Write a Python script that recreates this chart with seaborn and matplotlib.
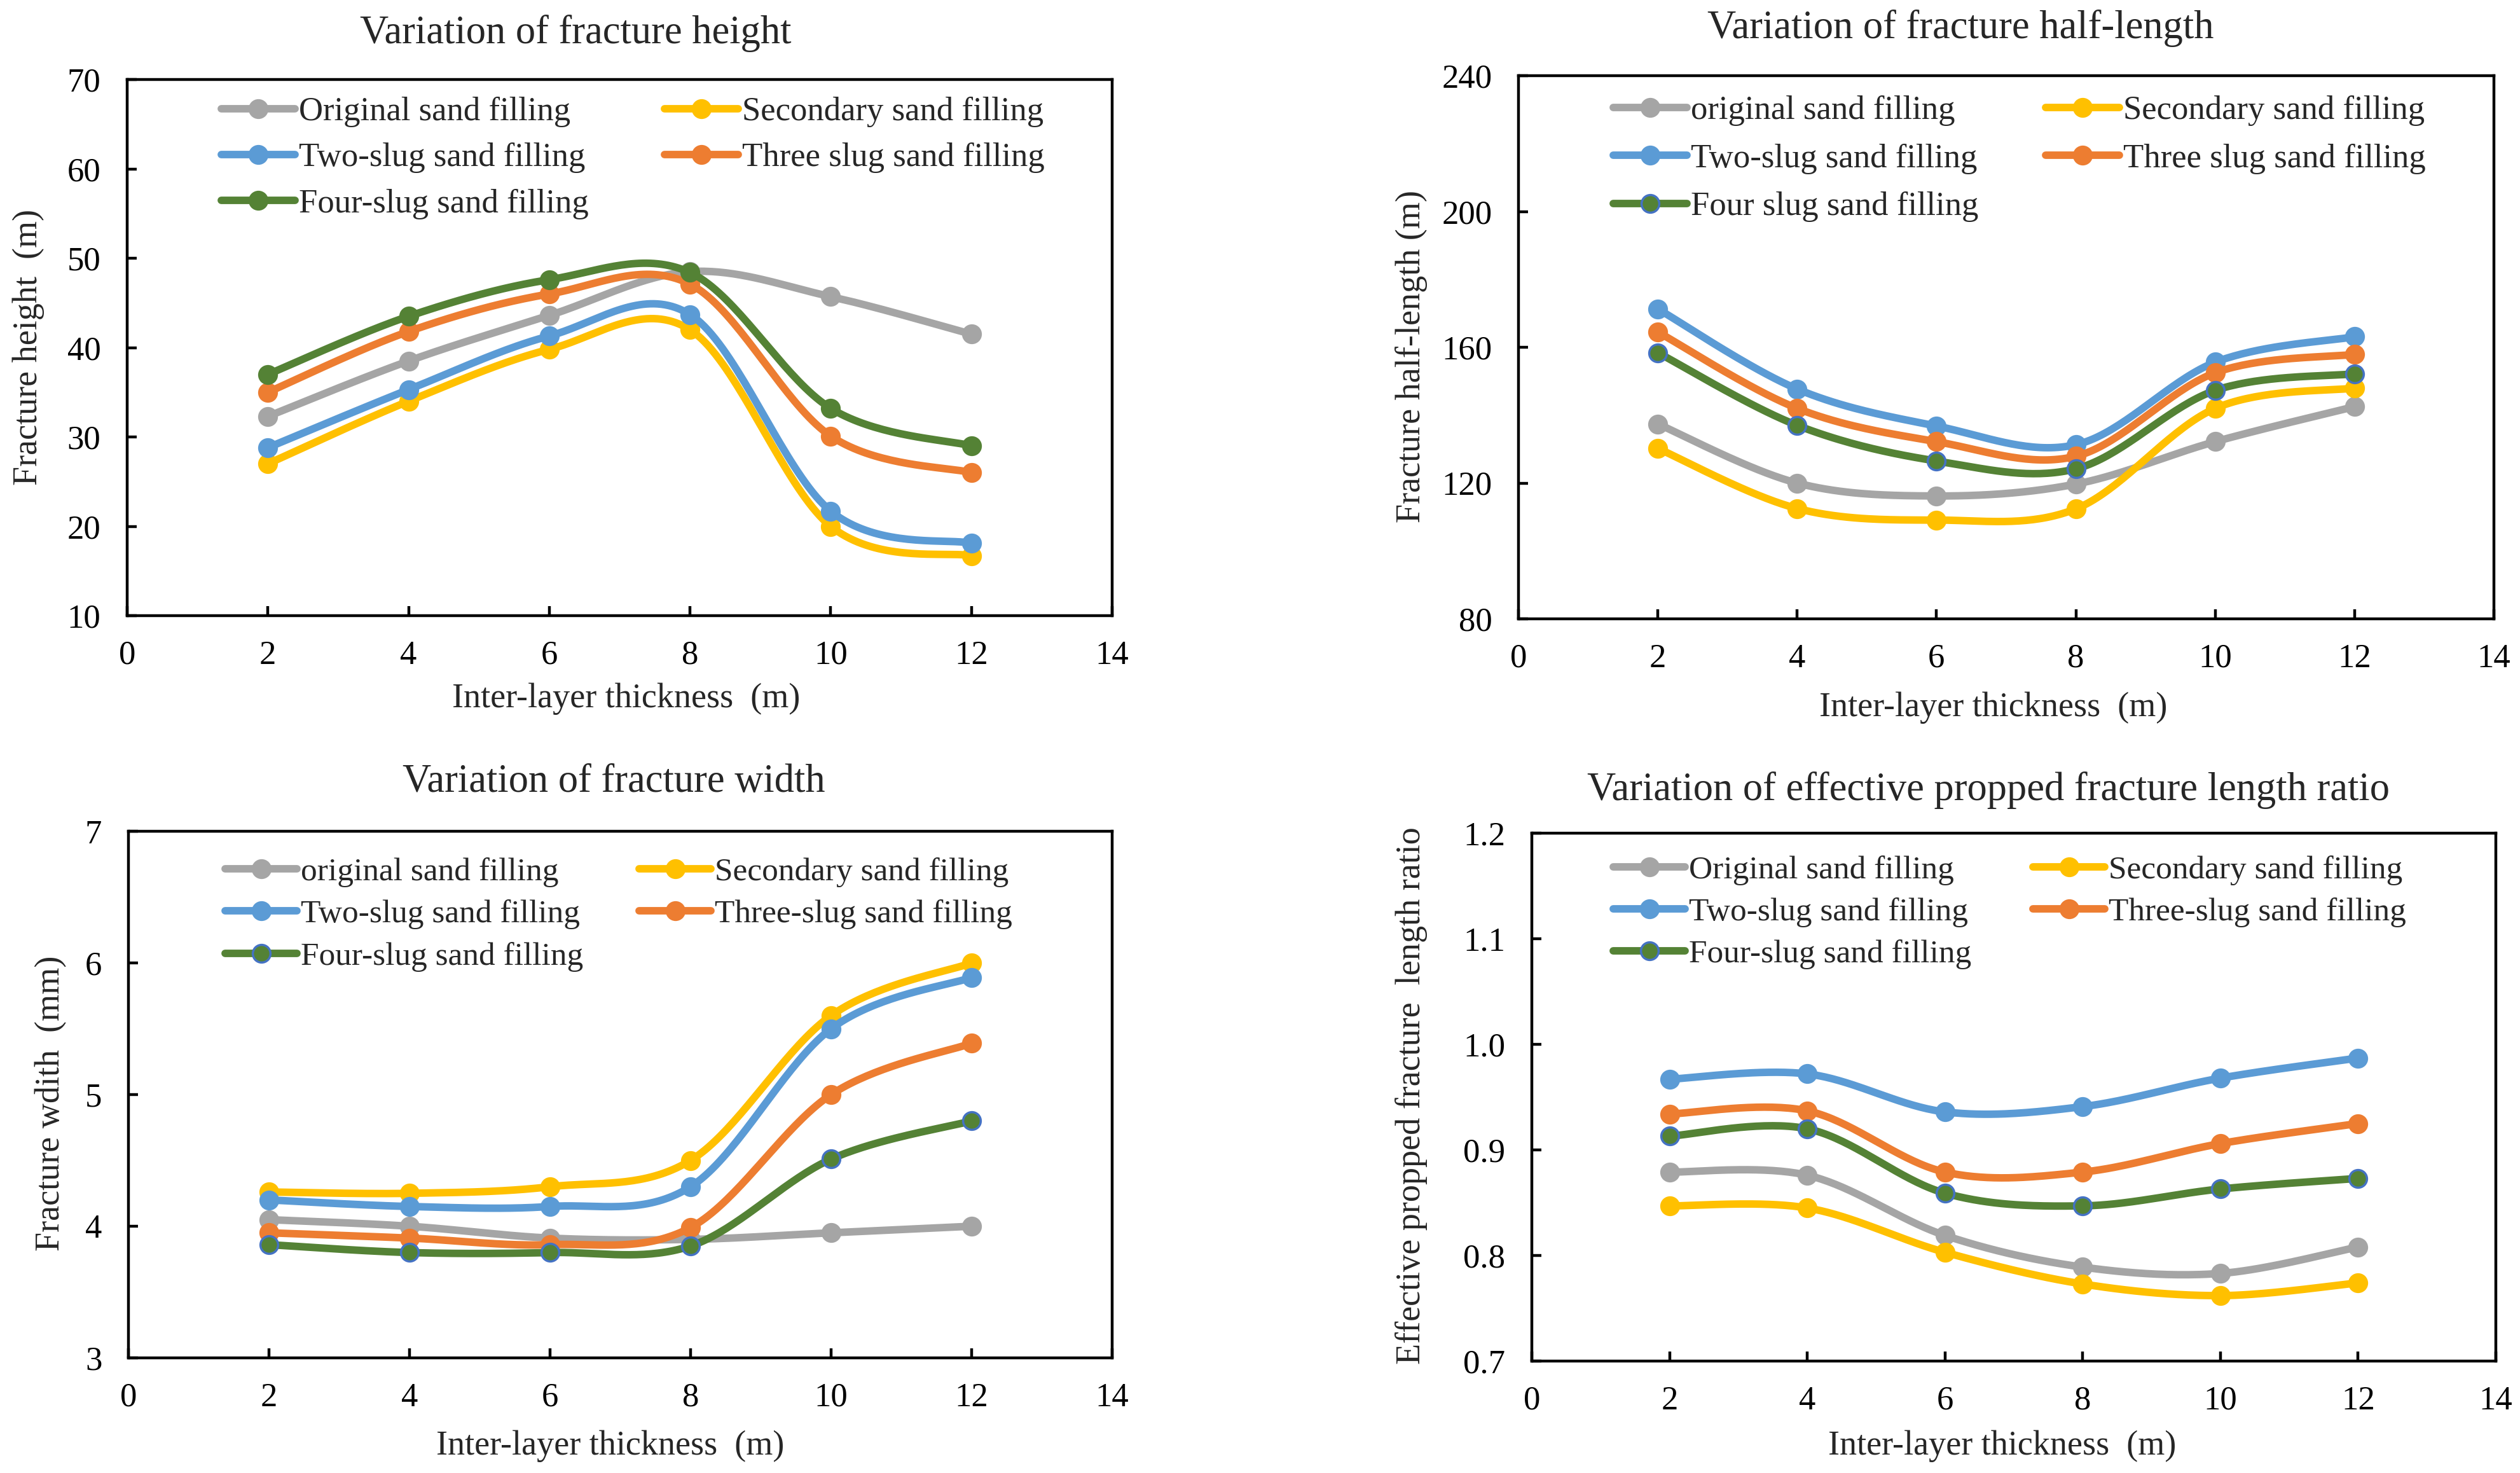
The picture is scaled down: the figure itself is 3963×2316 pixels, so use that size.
import numpy as np
import pandas as pd
import matplotlib
matplotlib.use("Agg")
import matplotlib.pyplot as plt
from matplotlib.lines import Line2D
from matplotlib.ticker import FormatStrFormatter, MultipleLocator
import seaborn as sns

W, H = 3963, 2316

thickness = [2, 4, 6, 8, 10, 12]
series_colors = ["#A5A5A5", "#FFC000", "#5B9BD5", "#ED7D31", "#548235"]

# fracture height (m)
height_original = [32.3, 38.5, 43.6, 48.5, 45.7, 41.5]
height_secondary = [27.0, 34.0, 39.8, 42.0, 20.0, 16.7]
height_two = [28.8, 35.3, 41.3, 43.7, 21.7, 18.1]
height_three = [35.0, 41.8, 46.0, 47.1, 30.1, 26.0]
height_four = [37.0, 43.5, 47.6, 48.4, 33.2, 29.0]
height_labels = ["Original sand filling", "Secondary sand filling", "Two-slug sand filling",
                 "Three slug sand filling", "Four-slug sand filling"]

# fracture half-length (m)
halflen_original = [137.4, 120.0, 116.2, 119.7, 132.2, 142.5]
halflen_secondary = [130.2, 112.5, 109.1, 112.4, 142.0, 148.0]
halflen_two = [171.3, 147.7, 136.8, 131.3, 155.6, 163.1]
halflen_three = [164.5, 142.0, 132.2, 127.9, 152.5, 157.9]
halflen_four = [158.4, 137.0, 126.5, 124.2, 147.3, 152.2]
halflen_labels = ["original sand filling", "Secondary sand filling", "Two-slug sand filling",
                  "Three slug sand filling", "Four slug sand filling"]

# fracture width (mm)
width_original = [4.05, 4.00, 3.91, 3.90, 3.95, 4.00]
width_secondary = [4.26, 4.25, 4.30, 4.50, 5.60, 6.00]
width_two = [4.20, 4.15, 4.15, 4.30, 5.50, 5.89]
width_three = [3.95, 3.91, 3.86, 3.99, 5.00, 5.39]
width_four = [3.86, 3.80, 3.80, 3.85, 4.51, 4.80]
width_labels = ["original sand filling", "Secondary sand filling", "Two-slug sand filling",
                "Three-slug sand filling", "Four-slug sand filling"]

# effective propped fracture length ratio
ratio_original = [0.879, 0.876, 0.819, 0.789, 0.783, 0.808]
ratio_secondary = [0.847, 0.845, 0.803, 0.773, 0.762, 0.774]
ratio_two = [0.967, 0.972, 0.936, 0.941, 0.968, 0.987]
ratio_three = [0.934, 0.937, 0.879, 0.879, 0.906, 0.925]
ratio_four = [0.913, 0.920, 0.859, 0.847, 0.863, 0.873]
ratio_labels = ["Original sand filling", "Secondary sand filling", "Two-slug sand filling",
                "Three-slug sand filling", "Four-slug sand filling"]

sns.set_theme(style="white")
plt.rcParams["font.family"] = ["Liberation Serif", "DejaVu Serif"]


def smooth_curve(x, y, n=40):
    # Excel-like smoothed line (Bezier through the points)
    pts = np.column_stack([x, y]).astype(float)
    out = []
    for i in range(len(pts) - 1):
        p0 = pts[i - 1] if i > 0 else pts[i]
        p1, p2 = pts[i], pts[i + 1]
        p3 = pts[i + 2] if i + 2 < len(pts) else pts[i + 1]
        c1 = p1 + (p2 - p0) / 6
        c2 = p2 - (p3 - p1) / 6
        t = np.linspace(0, 1, n)[:, None]
        seg = (1 - t) ** 3 * p1 + 3 * (1 - t) ** 2 * t * c1 + 3 * (1 - t) * t ** 2 * c2 + t ** 3 * p2
        out.append(seg if i == 0 else seg[1:])
    return np.vstack(out)


def fx(px):
    return px / W


def fy(py):
    return 1 - py / H


def make_axes(fig, left, top, right, bottom):
    return fig.add_axes([fx(left), fy(bottom), (right - left) / W, (bottom - top) / H])


def draw_panel(fig, box, series, labels, ylim, ystep, fmt, title, title_xy, ylabel, ylabel_xy,
               xlabel_xy, leg_cols, leg_top, fs_leg, lab_sp, green_edge):
    ax = make_axes(fig, *box)
    for k, (vals, color) in enumerate(zip(series, series_colors)):
        sm = smooth_curve(thickness, vals)
        sns.lineplot(x=sm[:, 0], y=sm[:, 1], sort=False, estimator=None, color=color,
                     linewidth=8.5, ax=ax, zorder=3 + 2 * k, solid_capstyle="round")
        edge = "#4472C4" if (green_edge and k == 4) else color
        sns.scatterplot(x=thickness, y=vals, color=color, s=400, edgecolor=edge,
                        linewidth=2.5, ax=ax, zorder=4 + 2 * k)
    ax.set_xlim(0, 14)
    ax.set_ylim(*ylim)
    ax.xaxis.set_major_locator(MultipleLocator(2))
    ax.yaxis.set_major_locator(MultipleLocator(ystep))
    ax.yaxis.set_major_formatter(FormatStrFormatter(fmt))
    ax.tick_params(direction="in", length=11, width=3.2, labelsize=38, colors="black",
                   bottom=True, left=True, top=False, right=False)
    ax.tick_params(axis="y", pad=30)
    ax.tick_params(axis="x", pad=28)
    for sp in ax.spines.values():
        sp.set_visible(True)
        sp.set_color("black")
        sp.set_linewidth(3.2)
    ax.set_xlabel("")
    ax.set_ylabel("")

    fig.text(fx(title_xy[0]), fy(title_xy[1]), title, ha="center", va="center", fontsize=45)
    fig.text(fx(ylabel_xy[0]), fy(ylabel_xy[1]), ylabel, ha="center", va="center",
             rotation=90, fontsize=39)
    fig.text(fx(xlabel_xy[0]), fy(xlabel_xy[1]), "Inter-layer thickness  (m)",
             ha="center", va="center", fontsize=39)

    handles = []
    for k, color in enumerate(series_colors):
        edge = "#4472C4" if (green_edge and k == 4) else color
        handles.append(Line2D([0], [0], color=color, linewidth=8.5, marker="o", markersize=20,
                              markerfacecolor=color, markeredgecolor=edge, markeredgewidth=2.5))
    groups = [[0, 2, 4], [1, 3]]
    legs = []
    for gi, idx in enumerate(groups):
        leg = ax.legend([handles[i] for i in idx], [labels[i] for i in idx],
                        loc="upper left", bbox_to_anchor=(fx(leg_cols[gi]), fy(leg_top)),
                        bbox_transform=fig.transFigure, frameon=False, fontsize=fs_leg,
                        handlelength=2.2, handletextpad=0.12, labelspacing=lab_sp,
                        borderpad=0, borderaxespad=0)
        legs.append(leg)
    ax.add_artist(legs[0])
    return ax


fig = plt.figure(figsize=(W / 100, H / 100), dpi=100)

draw_panel(fig, (200, 125, 1749, 968),
           [height_original, height_secondary, height_two, height_three, height_four],
           height_labels, (10, 70), 10, "%d", "Variation of fracture height", (905, 52),
           "Fracture height  (m)", (45, 546), (985, 1099), (348, 1045), 152, 38, 0.46, False)

draw_panel(fig, (2388, 119, 3922, 973),
           [halflen_original, halflen_secondary, halflen_two, halflen_three, halflen_four],
           halflen_labels, (80, 240), 40, "%d", "Variation of fracture half-length", (3083, 45),
           "Fracture half-length (m)", (2219, 560), (3135, 1113), (2537, 3217), 150, 38, 0.52, True)

draw_panel(fig, (202, 1307, 1749, 2135),
           [width_original, width_secondary, width_two, width_three, width_four],
           width_labels, (3, 7), 1, "%d", "Variation of fracture width", (965, 1230),
           "Fracture wdith  (mm)", (80, 1735), (960, 2274), (354, 1005), 1348, 37, 0.38, True)

draw_panel(fig, (2409, 1310, 3925, 2140),
           [ratio_original, ratio_secondary, ratio_two, ratio_three, ratio_four],
           ratio_labels, (0.7, 1.2), 0.1, "%.1f",
           "Variation of effective propped fracture length ratio", (3127, 1243),
           "Effective propped fracture  length ratio", (2219, 1723), (3149, 2274),
           (2537, 3197), 1345, 37, 0.37, True)

fig.savefig("out.png", dpi=100, facecolor="white")
